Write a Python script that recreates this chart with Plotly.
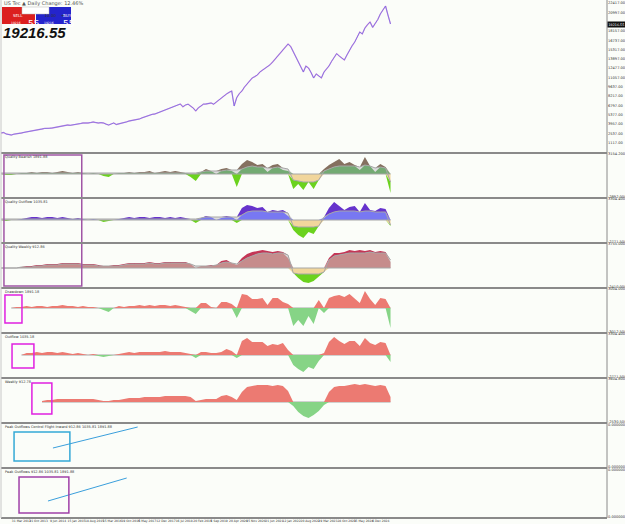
import numpy as np
import pandas as pd
import plotly.graph_objects as go

# ---------------- data ----------------
dates = pd.date_range("2012-08-01", periods=77, freq="2MS")
price_dates = pd.date_range("2012-08-01", periods=153, freq="MS")

price = [2605, 2680, 2452, 2380, 2300, 2420, 2452, 2500, 2605, 2700,
         2757, 2830, 2910, 2980, 3062, 3120, 3214, 3300, 3367, 3330,
         3367, 3450, 3519, 3600, 3672, 3750, 3824, 3780, 3824, 3900,
         3976, 4050, 4129, 4080, 4129, 4200, 4281, 4200, 4129, 4180,
         4129, 3950, 3824, 3980, 4129, 3900, 3976, 4050, 4129, 4300,
         4434, 4500, 4586, 4650, 4738, 4900, 5043, 5200, 5348, 5450,
         5500, 5650, 5805, 5950, 6110, 6300, 6415, 6550, 6720, 6850,
         7024, 6600, 6872, 7000, 6720, 6400, 5958, 6450, 6720, 7000,
         7024, 7100, 7177, 7000, 7329, 7600, 7939, 8250, 8548, 8800,
         9006, 6720, 8000, 8600, 9006, 9600, 10072, 10500, 10987, 11200,
         11444, 11900, 12206, 12400, 12663, 13000, 13425, 13900, 14340, 14800,
         15254, 15700, 16168, 15800, 14949, 14200, 13425, 12500, 11901, 12800,
         12511, 11800, 10987, 11600, 11292, 11000, 11901, 12300, 12816, 13500,
         14035, 14700, 14340, 14000, 13730, 14500, 15254, 15900, 16473, 17200,
         17997, 17700, 18607, 19100, 19521, 18700, 19216, 19900, 20740, 21300,
         21960, 20600, 19216]
last_price = 19216.55
main_ticks = [22417, 20997, 18157, 16737, 15317, 13897, 12477, 11057, 9637,
              8217, 6797, 5377, 3957, 2537, 1117]

q_bear_v = [0, -1, -1, 0, 1, 1, 2, 1, 2, 2, 1, 2, 3, 2, 1, 2, 1, 0, 1, 0,
            -2, -3, 0, 1, 1, 2, 1, 2, 2, 3, 1, 2, 3, 2, 3, 2, 1, -3, -7, 2,
            5, 3, 0, 5, 6, 3, -13, 10, 14, 12, 9, 10, 2, 9, 10, 4, 3, -15, -10, -16,
            -8, -15, -6, 5, 9, 12, 15, 10, 12, 9, 4, 17, 8, 2, 10, 7, -19]
q_bear_s = [1] * 39 + [2,
            3, 3, 3, 3, 4, 4, 4, 5, 7, 8, 7, 7, 6, 6, 7, 6, 5, -6, -7, -8,
            -8, -8, -6, 3, 5, 7, 8, 8, 8, 8, 7, 9, 8, 6, 7, 6, -8]

q_out_v = [0, -1, 0, 0, 1, 2, 3, 3, 2, 3, 3, 2, 3, 2, 1, 2, 1, 0, 1, 0,
           -2, -1, 0, 1, 2, 3, 2, 3, 3, 2, 3, 3, 2, 3, 2, 3, 2, 0, -3, 2,
           4, 3, 0, 2, 4, 3, -3, 12, 15, 14, 12, 13, 8, 10, 9, 10, 4, -10, -15, -18,
           -12, -14, -6, 2, 12, 18, 14, 10, 13, 14, 8, 17, 10, 9, 12, 11, -6]
q_out_s = [1] * 39 + [2,
           3, 3, 3, 3, 3, 3, 3, 5, 8, 9, 9, 9, 8, 8, 8, 8, 7, -6, -7, -7,
           -7, -7, -6, 3, 6, 8, 9, 9, 9, 9, 8, 9, 9, 8, 8, 8, -5]

q_week_v = [0, 0, 0, 0, 1, 2, 2, 3, 3, 4, 4, 4, 5, 5, 5, 5, 4, 4, 4, 3,
            2, 2, 3, 3, 4, 5, 5, 5, 5, 6, 5, 5, 6, 6, 6, 6, 6, 4, 0, 2,
            2, 3, 3, 7, 8, 5, 3, 10, 14, 16, 17, 18, 17, 16, 17, 16, 10, -3, -10, -14,
            -15, -13, -9, -4, 10, 15, 15, 16, 18, 17, 18, 17, 18, 16, 17, 16, 6]
q_week_s = [0, 0, 0, 0, 1, 1, 1, 2, 2, 3, 3, 3, 4, 4, 4, 4, 3, 3, 3, 2,
            2, 2, 2, 2, 3, 4, 4, 4, 4, 5, 4, 4, 5, 5, 5, 5, 5, 4, 2, 2,
            2, 2, 3, 5, 6, 5, 4, 7, 10, 12, 14, 15, 15, 14, 15, 15, 13, -5, -6, -6,
            -6, -6, -6, -4, 8, 12, 13, 14, 15, 15, 15, 15, 16, 15, 15, 15, 8]

dd_start = "2012-12-01"
dd_v = [0, 1, 1, 2, 1, 2, 2, 1, 2, 2, 3, 2, 2, 1, 2, 1, 1, 0,
        -2, -4, 0, 2, 1, 2, 2, 3, 2, 3, 2, 3, 3, 2, 3, 2, 1, -3, -6, 5,
        5, 1, 0, 6, 6, 4, -10, 14, 13, 9, 9, 10, 3, 10, 10, 6, 4, -18, -12, -18,
        -8, -16, 8, -5, 10, 12, 13, 11, 14, 9, 5, 17, 9, 3, 10, 9, -20]
of_start = "2013-04-01"
of_v = [0, 2, 2, 3, 2, 3, 3, 2, 3, 2, 1, 2, 1, 0, 1, -1,
        -2, -1, 0, 1, 2, 3, 2, 3, 3, 3, 3, 3, 4, 3, 3, 3, 2, 1, -3, 3,
        3, 2, 2, 3, 6, 4, -3, 14, 17, 13, 13, 13, 9, 11, 10, 12, 5, -10, -14, -17,
        -12, -14, -6, 2, 13, 18, 14, 11, 14, 14, 9, 17, 12, 10, 13, 12, -7]
wk_start = "2013-12-01"
wk_v = [1, 2, 2, 3, 3, 3, 3, 3, 3, 3, 3, 2,
        1, 1, 2, 2, 3, 4, 4, 4, 5, 5, 5, 5, 6, 6, 6, 6, 6, 5, 1, 2,
        3, 3, 3, 6, 7, 5, 2, 10, 15, 16, 17, 17, 17, 16, 17, 16, 11, -4, -10, -14,
        -16, -13, -9, -3, 10, 15, 16, 16, 17, 18, 17, 18, 17, 16, 17, 16, 5]

xtick_dates = ["2012-08-07", "2013-03-31", "2013-10-21", "2014-06-09", "2015-01-15",
               "2015-08-18", "2016-03-15", "2016-10-19", "2017-05-05", "2017-12-12",
               "2018-07-16", "2019-02-20", "2019-09-05", "2020-04-20", "2020-11-15",
               "2021-06-21", "2022-01-12", "2022-08-20", "2023-03-19", "2023-10-28",
               "2024-05-15", "2024-12-06"]

# panel layout in screen pixels (top, bottom, zero line)
PLOT_H = 518
panels = {
    "y":  (0, 153, None),
    "y2": (153, 198, 174),
    "y3": (198, 243, 220),
    "y4": (243, 288, 268),
    "y5": (288, 333, 308),
    "y6": (333, 378, 355),
    "y7": (378, 423, 402),
    "y8": (423, 468, None),
    "y9": (468, 518, None),
}

def pxy(p):
    return 1 - p / PLOT_H

def pxx(p):
    return (p - 1) / 606

GRAY_FILL = "#dcdcdc"
GRAY_LINE = "#a6a6a6"
TAN = "#f1d69c"
BRIGHT = "#6bd21e"

fig = go.Figure()

def band(ax, x, lo, hi, color):
    fig.add_trace(go.Scatter(x=x, y=lo, yaxis=ax, mode="lines", line=dict(width=0),
                             hoverinfo="skip", showlegend=False))
    fig.add_trace(go.Scatter(x=x, y=hi, yaxis=ax, mode="lines", line=dict(width=0),
                             fill="tonexty", fillcolor=color, hoverinfo="skip",
                             showlegend=False))

def quality(ax, v, s, base, dark):
    v = np.array(v, float)
    s = np.array(s, float)
    z = np.zeros_like(v)
    sp = np.maximum(s, 0)
    sn = np.minimum(s, 0)
    band(ax, dates, z, sp, GRAY_FILL)
    band(ax, dates, z, np.maximum(np.minimum(v, sp), 0), base)
    band(ax, dates, sp, np.maximum(v, sp), dark)
    band(ax, dates, sn, z, TAN)
    band(ax, dates, np.minimum(v, sn), sn, BRIGHT)
    fig.add_trace(go.Scatter(x=dates, y=z, yaxis=ax, mode="lines",
                             line=dict(color=GRAY_LINE, width=1), showlegend=False))
    fig.add_trace(go.Scatter(x=dates, y=s, yaxis=ax, mode="lines",
                             line=dict(color=GRAY_LINE, width=1), showlegend=False))

def flows(ax, start, v):
    v = np.array(v, float)
    x = pd.date_range(start, periods=len(v), freq="2MS")
    z = np.zeros_like(v)
    fig.add_trace(go.Scatter(x=x, y=z, yaxis=ax, mode="lines",
                             line=dict(color=GRAY_LINE, width=1), showlegend=False))
    band(ax, x, z, np.maximum(v, 0), "#ec7a72")
    band(ax, x, np.minimum(v, 0), z, "#86d486")

# main price (blue bars with pink overlay as in the terminal)
fig.add_trace(go.Scatter(x=price_dates, y=price, mode="lines",
                         line=dict(color="#dca0dc", width=1.3), showlegend=False))
fig.add_trace(go.Scatter(x=price_dates, y=price, mode="lines",
                         line=dict(color="#6a62e6", width=0.7), showlegend=False))

quality("y2", q_bear_v, q_bear_s, "#73aa73", "#85705f")
quality("y3", q_out_v, q_out_s, "#7878f2", "#6633cc")
quality("y4", q_week_v, q_week_s, "#c68c8c", "#c43656")
flows("y5", dd_start, dd_v)
flows("y6", of_start, of_v)
flows("y7", wk_start, wk_v)

# drawn objects (trend lines + boxes) in panels 8/9
lines8 = (["2014-04-10", "2017-01-10"], [20, 41])
lines9 = (["2014-02-10", "2016-09-02"], [17, 40])
fig.add_trace(go.Scatter(x=lines8[0], y=lines8[1], yaxis="y8", mode="lines",
                         line=dict(color="#3a9fdc", width=1), showlegend=False))
fig.add_trace(go.Scatter(x=lines9[0], y=lines9[1], yaxis="y9", mode="lines",
                         line=dict(color="#3a9fdc", width=1), showlegend=False))

boxes = [
    ("y5", "2012-09-17", "2013-04-07", 13, -15, "#e020e0"),
    ("y6", "2012-12-10", "2013-08-27", 11, -13, "#e020e0"),
    ("y7", "2013-08-03", "2014-03-28", 19, -12, "#e020e0"),
    ("y8", "2013-01-03", "2014-10-28", 36, 7, "#35a9d6"),
    ("y9", "2013-03-03", "2014-10-16", 41, 5, "#a040a8"),
]
shapes = []
for ax, x0, x1, y0, y1, c in boxes:
    shapes.append(dict(type="rect", xref="x", yref=ax, x0=x0, x1=x1, y0=y0, y1=y1,
                       line=dict(color=c, width=1.5)))
shapes.append(dict(type="rect", xref="x", yref="paper", x0="2012-09-05", x1="2015-03-18",
                   y0=pxy(286), y1=pxy(155), line=dict(color="#a055a5", width=1.5)))

for p in [153, 198, 243, 288, 333, 378, 423, 468, 518]:
    shapes.append(dict(type="line", xref="paper", yref="paper", x0=0, x1=1,
                       y0=pxy(p), y1=pxy(p), line=dict(color="#8a8a8a", width=2)))
shapes.append(dict(type="line", xref="paper", yref="paper", x0=1, x1=1, y0=0, y1=1,
                   line=dict(color="#8a8a8a", width=1)))
shapes.append(dict(type="line", xref="paper", yref="paper", x0=0, x1=0, y0=0, y1=1,
                   line=dict(color="#c8c8c8", width=1)))

# trading panel
shapes += [
    dict(type="rect", xref="paper", yref="paper", x0=pxx(2), x1=pxx(35), y0=pxy(24), y1=pxy(7),
         fillcolor="#dc1f1f", line=dict(width=0)),
    dict(type="rect", xref="paper", yref="paper", x0=pxx(36), x1=pxx(71), y0=pxy(24), y1=pxy(7),
         fillcolor="#2424cc", line=dict(width=0)),
    dict(type="rect", xref="paper", yref="paper", x0=pxx(22), x1=pxx(49), y0=pxy(14), y1=pxy(7),
         fillcolor="#ffffff", line=dict(color="#bbbbbb", width=0.5)),
]

annotations = [
    dict(text="US Tec ▲ Daily Change: 12.46%", x=pxx(2), y=pxy(3.5), xref="paper", yref="paper",
         xanchor="left", yanchor="middle", showarrow=False,
         font=dict(size=5, color="#555555", family="DejaVu Sans")),
    dict(text="SELL", x=pxx(11), y=pxy(10.5), xref="paper", yref="paper", showarrow=False,
         font=dict(size=4, color="white", family="DejaVu Sans")),
    dict(text="BUY", x=pxx(61), y=pxy(10.5), xref="paper", yref="paper", showarrow=False,
         font=dict(size=4, color="white", family="DejaVu Sans")),
    dict(text="-    10.00    +", x=pxx(35.5), y=pxy(10.5), xref="paper", yref="paper",
         showarrow=False, font=dict(size=4, color="#333", family="DejaVu Sans")),
    dict(text="55", x=pxx(27), y=pxy(18.5), xref="paper", yref="paper", showarrow=False,
         borderpad=0, font=dict(size=9, color="white", family="DejaVu Sans")),
    dict(text="55", x=pxx(62), y=pxy(18.5), xref="paper", yref="paper", showarrow=False,
         borderpad=0, font=dict(size=9, color="white", family="DejaVu Sans")),
    dict(text="19216", x=pxx(10), y=pxy(20.5), xref="paper", yref="paper", showarrow=False,
         borderpad=0, font=dict(size=3, color="white", family="DejaVu Sans")),
    dict(text="19216", x=pxx(43), y=pxy(20.5), xref="paper", yref="paper", showarrow=False,
         borderpad=0, font=dict(size=3, color="white", family="DejaVu Sans")),
    dict(text="<b><i>19216.55</i></b>", x=pxx(2), y=pxy(33), xref="paper", yref="paper",
         xanchor="left", yanchor="middle", showarrow=False, borderpad=0,
         font=dict(size=15, color="#111111", family="Liberation Sans")),
    dict(text="%.2f" % last_price, x=1.0005, y=last_price, xref="paper", yref="y",
         xanchor="left", yanchor="middle", showarrow=False, bgcolor="#111111",
         borderpad=0.5, font=dict(size=3.3, color="white", family="DejaVu Sans")),
]

titles = {
    "y2": "Quality Bearish 1891.88",
    "y3": "Quality Outflow 1035.81",
    "y4": "Quality Weekly 912.86",
    "y5": "Drawdown 1891.18",
    "y6": "Outflow 1035.18",
    "y7": "Weekly 912.78",
    "y8": "Peak Outflows Control Flight Inward 912.86 1035.81 1891.88",
    "y9": "Peak Outflows 912.86 1035.81 1891.88",
}
for ax, t in titles.items():
    top = panels[ax][0]
    annotations.append(dict(text=t, x=pxx(3), y=pxy(top + 4), xref="paper", yref="paper",
                            xanchor="left", yanchor="middle", showarrow=False,
                            font=dict(size=3.5, color="#333333", family="DejaVu Sans")))

layout = dict(
    width=625, height=524,
    margin=dict(l=1, r=18, t=0, b=6, autoexpand=False),
    paper_bgcolor="#fbfdf9", plot_bgcolor="#fbfdf9",
    showlegend=False,
    shapes=shapes, annotations=annotations,
    xaxis=dict(range=["2012-08-01", "2032-04-15"], anchor="y9",
               tickvals=xtick_dates, tickangle=0, automargin=False,
               ticktext=[pd.Timestamp(d).strftime("%-d %b %Y") for d in xtick_dates],
               tickfont=dict(size=3, color="#333", family="DejaVu Sans"),
               ticks="", showgrid=False, zeroline=False, showline=False),
)

for ax, (top, bot, zero) in panels.items():
    key = "yaxis" if ax == "y" else "yaxis" + ax[1:]
    if ax == "y":
        rng = [-443, 22874]
        tv = main_ticks
        tt = ["%.2f" % t for t in tv]
    elif zero is not None:
        rng = [-(bot - zero), zero - top]
        tv = [rng[0] + 0.8, rng[1] - 1.2]
        tt = ["-%.3f" % (abs(rng[0]) * 120.5), "%.3f" % (rng[1] * 150.2)]
    else:
        rng = [0, bot - top]
        tv = [1.5, bot - top - 1.5]
        tt = ["0.000000", "0.000000"]
    layout[key] = dict(domain=[pxy(bot), pxy(top)], range=rng, anchor="x", side="right",
                       tickvals=tv, ticktext=tt, showgrid=False, zeroline=False,
                       automargin=False, ticklabelposition="outside",
                       ticks="", tickfont=dict(size=3.6, color="#333", family="DejaVu Sans"))

fig.update_layout(**layout)
fig.write_html("out.html", config={"displayModeBar": False},
               post_script="document.body.style.margin='0px';")
